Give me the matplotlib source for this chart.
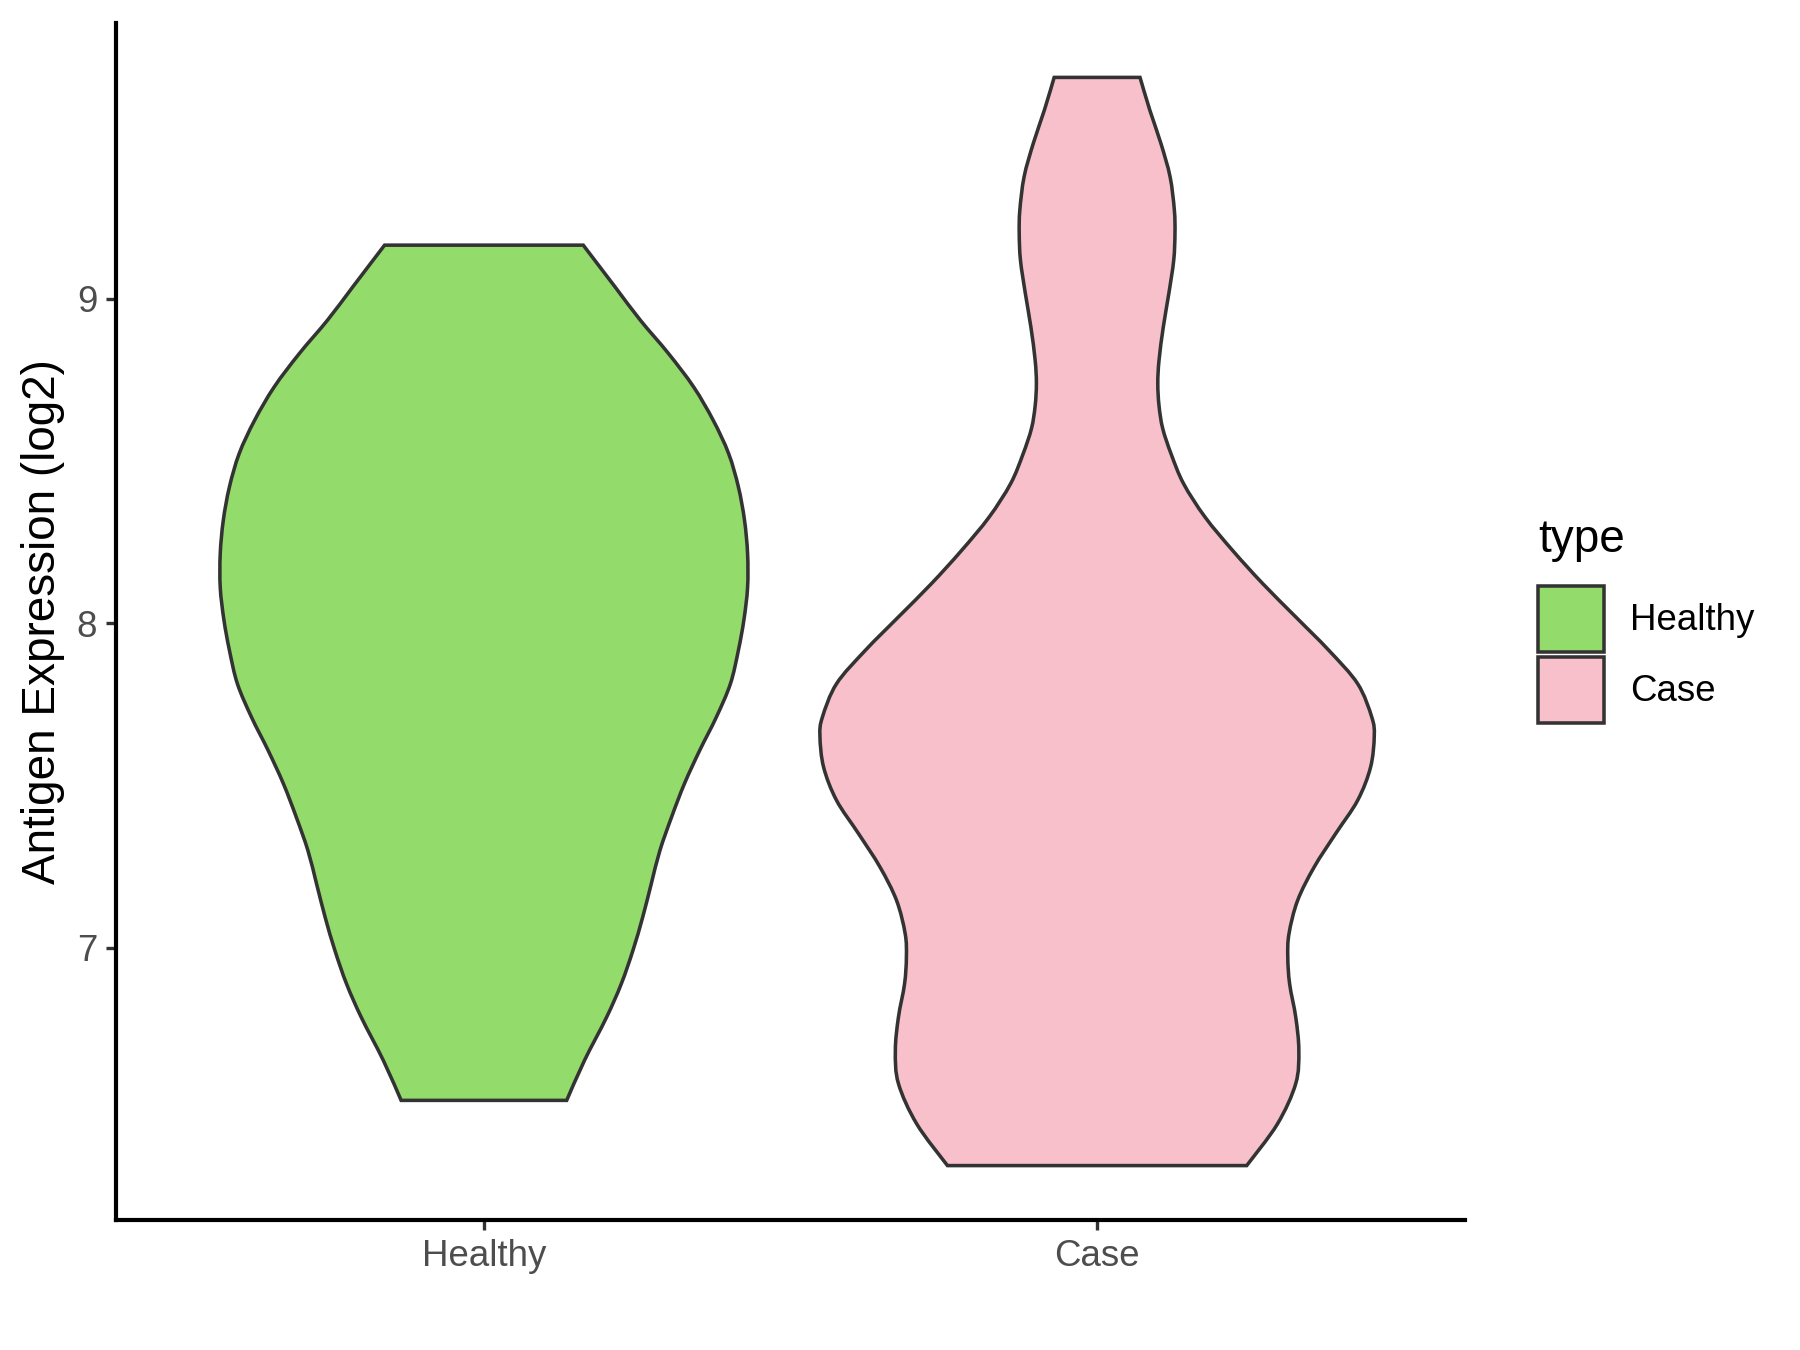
import numpy as np
import matplotlib
matplotlib.use('Agg')
import matplotlib.pyplot as plt
from matplotlib.patches import Patch, PathPatch
from matplotlib.path import Path

# violin outlines: value (log2) and half width (category units)
categories = ['Healthy', 'Case']

healthy_y = [6.529, 6.652, 6.785, 6.888, 6.991, 7.094, 7.197, 7.299, 7.402, 7.505,
             7.608, 7.710, 7.813, 7.916, 8.010, 8.110, 8.214, 8.317, 8.420, 8.523,
             8.625, 8.728, 8.831, 8.934, 9.036, 9.165]
healthy_w = [0.135, 0.164, 0.200, 0.224, 0.243, 0.259, 0.273, 0.287, 0.306, 0.327,
             0.352, 0.379, 0.402, 0.415, 0.424, 0.430, 0.430, 0.425, 0.415, 0.399,
             0.374, 0.342, 0.301, 0.255, 0.214, 0.162]

case_y = [6.328, 6.456, 6.581, 6.683, 6.785, 6.888, 6.970, 7.043, 7.145, 7.248,
          7.351, 7.454, 7.556, 7.652, 7.710, 7.813, 7.916, 8.019, 8.122, 8.224,
          8.327, 8.430, 8.520, 8.600, 8.670, 8.739, 8.810, 8.913, 9.016, 9.119,
          9.201, 9.273, 9.376, 9.479, 9.581, 9.682]
case_w = [0.244, 0.294, 0.324, 0.329, 0.324, 0.314, 0.311, 0.313, 0.327, 0.354,
          0.389, 0.425, 0.446, 0.452, 0.448, 0.425, 0.378, 0.324, 0.270, 0.221,
          0.176, 0.141, 0.121, 0.107, 0.101, 0.099, 0.101, 0.108, 0.117, 0.125,
          0.127, 0.126, 0.119, 0.104, 0.086, 0.070]

colors = ['#93DB6B', '#F7C0CB']
yticks = [7, 8, 9]


def smooth_side(xs, ys):
	# catmull-rom through the read points, as cubic bezier pieces
	pts = np.column_stack([xs, ys])
	ext = np.vstack([pts[0], pts, pts[-1]])
	verts = []
	for i in range(len(pts) - 1):
		p0, p1, p2, p3 = ext[i], ext[i+1], ext[i+2], ext[i+3]
		verts += [p1 + (p2 - p0)/6.0, p2 - (p3 - p1)/6.0, p2]
	return verts


def violin_path(pos, yy, ww):
	yy = np.array(yy)
	ww = np.array(ww)
	left = smooth_side(pos - ww, yy)
	right = smooth_side((pos + ww)[::-1], yy[::-1])
	verts = [(pos - ww[0], yy[0])] + left + [(pos + ww[-1], yy[-1])] + right + [(pos - ww[0], yy[0])]
	codes = ([Path.MOVETO] + [Path.CURVE4]*len(left) + [Path.LINETO]
	         + [Path.CURVE4]*len(right) + [Path.CLOSEPOLY])
	return Path(verts, codes)


plt.rcParams['font.family'] = ['Liberation Sans', 'DejaVu Sans']

fig = plt.figure(figsize=(12, 9), dpi=150)
ax = fig.add_axes([116/1800., 1 - 1220/1350., (1465 - 116)/1800., (1220 - 23)/1350.])

profiles = [(healthy_y, healthy_w), (case_y, case_w)]
for i, (yy, ww) in enumerate(profiles):
	p = violin_path(i + 1, yy, ww)
	ax.add_patch(PathPatch(p, facecolor=colors[i], edgecolor='#333333', lw=1.7,
	                       joinstyle='miter'))

# ggplot style limits: 5% padding on the data range, 0.6 on discrete axis
lo = min(min(healthy_y), min(case_y))
hi = max(max(healthy_y), max(case_y))
pad = 0.05*(hi - lo)
ax.set_ylim(lo - pad, hi + pad)
ax.set_xlim(0.4, 2.6)

ax.set_xticks([1, 2])
ax.set_xticklabels(categories)
ax.set_yticks(yticks)
ax.set_yticklabels([str(t) for t in yticks])
ax.tick_params(axis='both', colors='#333333', labelcolor='#4D4D4D', labelsize=17.6,
               length=5, width=1.6, pad=4)

for s in ['top', 'right']:
	ax.spines[s].set_visible(False)
for s in ['left', 'bottom']:
	ax.spines[s].set_linewidth(2.0)
	ax.spines[s].set_color('black')

ax.set_ylabel('Antigen Expression (log2)', fontsize=22, color='black', labelpad=5.6)

handles = [Patch(facecolor=colors[i], edgecolor='#333333', lw=1.7) for i in range(2)]
leg = ax.legend(handles, categories, title='type', loc='upper left',
                bbox_to_anchor=(1538/1800., 1 - 518/1350.), bbox_transform=fig.transFigure,
                frameon=False, fontsize=17.6, title_fontsize=22,
                handlelength=1.8, handleheight=2.39, handletextpad=0.7,
                labelspacing=0.15, borderpad=0, borderaxespad=0, alignment='left')
leg._legend_box.sep = 11.4

fig.savefig('out.png', dpi=150)
